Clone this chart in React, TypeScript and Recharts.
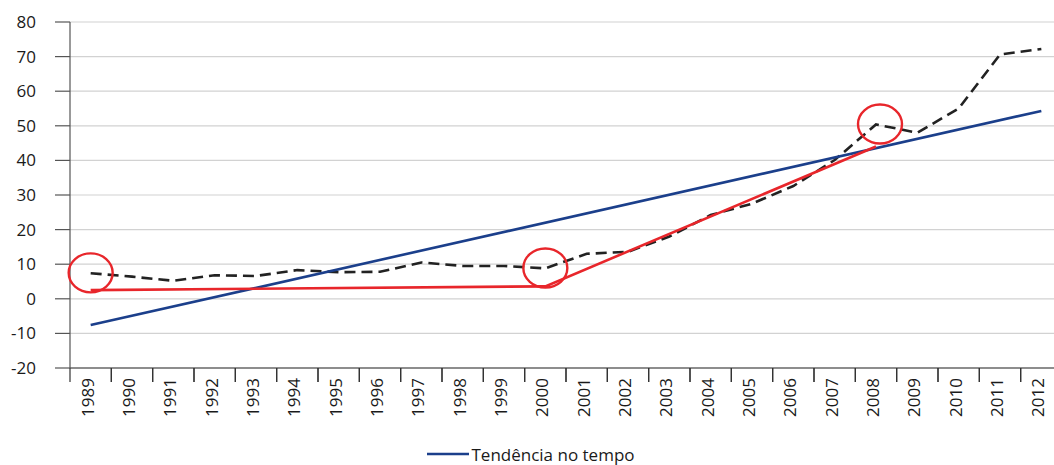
import { LineChart, Line, XAxis, YAxis, CartesianGrid, Legend, ReferenceDot } from 'recharts'

const years = [
  '1989', '1990', '1991', '1992', '1993', '1994', '1995', '1996', '1997', '1998', '1999', '2000',
  '2001', '2002', '2003', '2004', '2005', '2006', '2007', '2008', '2009', '2010', '2011', '2012',
]
const observed = [
  7.4, 6.4, 5.2, 6.8, 6.6, 8.3, 7.7, 7.8, 10.5, 9.5, 9.5, 8.8,
  13.0, 13.6, 18.0, 24.2, 27.5, 32.6, 40.1, 50.4, 48.0, 55.0, 70.6, 72.2,
]
// straight trend, only the two ends are known
const trend: (number | null)[] = [
  -7.6, null, null, null, null, null, null, null, null, null, null, null,
  null, null, null, null, null, null, null, null, null, null, null, 54.3,
]
// piecewise fit, break points at 2000 and 2008
const segments: (number | null)[] = [
  2.5, null, null, null, null, null, null, null, null, null, null, 3.6,
  null, null, null, null, null, null, null, 44.0, null, null, null, null,
]
const yTicks = [-20, -10, 0, 10, 20, 30, 40, 50, 60, 70, 80]
const breakYears = ['1989', '2000', '2008']
const breakValues = [7.5, 8.9, 50.5]

const data = years.map((year, i) => ({
  year,
  observed: observed[i],
  trend: trend[i],
  segments: segments[i],
}))

const FONT = '"Open Sans", "Noto Sans", sans-serif'
const TEXT = '#1a1a1a'
const W = 1070
const H = 465
const LEFT = 70
const RIGHT = 8
const STEP = (W - LEFT - RIGHT) / years.length

function YearTick({ x, y, payload }: { x?: number; y?: number; payload?: { value: string } }) {
  return (
    <g transform={`translate(${x},${y})`}>
      <line x1={-STEP / 2} x2={-STEP / 2} y1={0} y2={14} stroke="#333" strokeWidth={1.2} />
      <line x1={STEP / 2} x2={STEP / 2} y1={0} y2={14} stroke="#333" strokeWidth={1.2} />
      <text transform="rotate(-90)" x={-10} y={3} textAnchor="end" fontSize={17} fontWeight={500} fill={TEXT} fontFamily={FONT}>
        {payload?.value}
      </text>
    </g>
  )
}

function Ring(props: { cx?: number; cy?: number; shift?: number }) {
  const { cx = 0, cy = 0, shift = 0 } = props
  return <ellipse cx={cx + shift} cy={cy} rx={22} ry={19.5} fill="none" stroke="#e8262b" strokeWidth={2.4} />
}

function TrendLegend() {
  return (
    <div style={{ display: 'flex', justifyContent: 'center', alignItems: 'center', fontFamily: FONT, fontSize: 17, fontWeight: 500, color: TEXT, height: 22 }}>
      <svg width={42} height={10} style={{ marginRight: 2 }}>
        <line x1={0} x2={42} y1={5} y2={5} stroke="#1b3f8b" strokeWidth={2.5} />
      </svg>
      <span>Tendência no tempo</span>
    </div>
  )
}

export default function App() {
  return (
    <div style={{ position: 'fixed', left: 0, top: 0, width: 1054, height: H, overflow: 'hidden', background: '#fff' }}>
      <LineChart width={W} height={H} data={data} margin={{ top: 22, right: RIGHT, left: 0, bottom: 0 }}>
        <CartesianGrid vertical={false} stroke="#d2d2d2" strokeWidth={1.2} />
        <XAxis
          dataKey="year"
          interval={0}
          height={75}
          tickLine={false}
          tickSize={0}
          tickMargin={0}
          stroke="#333"
          strokeWidth={1.2}
          padding={{ left: STEP / 2, right: STEP / 2 }}
          tick={<YearTick />}
        />
        <YAxis
          width={LEFT}
          domain={[-20, 80]}
          ticks={yTicks}
          interval={0}
          tickSize={15}
          tickMargin={19}
          stroke="#555"
          strokeWidth={1.2}
          tick={{ fill: TEXT, fontSize: 17, fontWeight: 500, fontFamily: FONT }}
        />
        <Legend verticalAlign="bottom" content={<TrendLegend />} />
        <Line
          dataKey="observed"
          stroke="#222"
          strokeWidth={2.6}
          strokeDasharray="11 6"
          dot={false}
          isAnimationActive={false}
        />
        <Line
          dataKey="trend"
          stroke="#1b3f8b"
          strokeWidth={2.6}
          connectNulls
          dot={false}
          isAnimationActive={false}
        />
        <Line
          dataKey="segments"
          stroke="#e8262b"
          strokeWidth={2.6}
          connectNulls
          dot={false}
          isAnimationActive={false}
        />
        {breakYears.map((year, i) => (
          <ReferenceDot key={year} x={year} y={breakValues[i]} r={20} shape={<Ring shift={i === 2 ? 4 : 0} />} />
        ))}
      </LineChart>
    </div>
  )
}
